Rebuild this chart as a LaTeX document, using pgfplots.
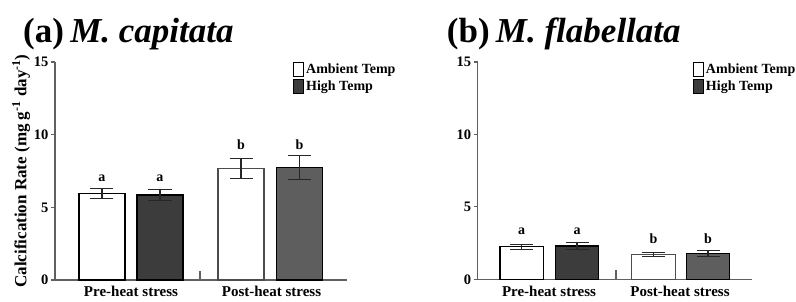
\documentclass[border=0pt]{standalone}
\usepackage{pgfplots}
\pgfplotsset{compat=1.18}
\usepackage{fontspec}
\setmainfont{Liberation Serif}
\definecolor{darkbar}{HTML}{3C3C3C}
\definecolor{midbar}{HTML}{5E5E5E}
\definecolor{axisgrey}{HTML}{606060}
\pgfplotsset{
  panel/.style={
    scale only axis,
    anchor=south west,
    ymin=0, ymax=15,
    ytick={0,5,10,15},
    yticklabels={0,5,10,15},
    axis x line*=bottom,
    axis y line*=left,
    axis line style={axisgrey, line width=1.2pt},
    ytick style={axisgrey, line width=1.2pt},
    tick align=outside,
    major tick length=4pt,
    xtick style={draw=none},
    ticklabel style={font=\fontsize{14.5}{14.5}\selectfont\bfseries},
    yticklabel style={xshift=1pt},
    xticklabel style={font=\fontsize{15}{15}\selectfont\bfseries, yshift=1pt},
    clip=false,
    legend image code/.code={\draw[##1, line width=1pt] (0pt,-7pt) rectangle (10pt,7pt);},
    legend style={draw=none, fill=none, anchor=north west, inner sep=0pt,
      font=\fontsize{14}{14}\selectfont\bfseries, row sep=1pt,
      /tikz/every even column/.append style={column sep=1pt}},
    legend cell align=left,
  },
  barst/.style={ybar, bar shift=0pt, line width=1.2pt, forget plot,
    error bars/.cd, y dir=both, y explicit,
    error bar style={line width=1.2pt, black!85},
    error mark options={rotate=90, line width=1.2pt, black!85, mark size=11.5pt},
    /pgfplots/.cd},
}
\begin{document}
\begin{tikzpicture}
\path[use as bounding box] (0,0) rectangle (796pt,302pt);
\node[anchor=base west, inner sep=0pt, font=\fontsize{35}{35}\selectfont\bfseries] at (23pt,259pt) {(a)\hspace{0.18em}\textit{M. capitata}};
\node[anchor=base west, inner sep=0pt, font=\fontsize{35}{35}\selectfont\bfseries] at (446.7pt,259pt) {(b)\hspace{0.18em}\textit{M. flabellata}};
% Left panel
\begin{axis}[panel, at={(55pt,22pt)}, width=292pt, height=218pt,
  xmin=0, xmax=292, xtick={76,216.5}, xticklabels={Pre-heat stress,Post-heat stress},
  ylabel={Calcification Rate (mg g\textsuperscript{-1} day\textsuperscript{-1})},
  ylabel style={font=\fontsize{17}{17}\selectfont\bfseries, yshift=-3pt},
  legend style={at={(0.815,1.0)}}]
\addplot[barst, bar width=46, fill=white, draw=black] coordinates {(47,5.95) +- (0,0.35)};
\addplot[barst, bar width=46, fill=darkbar, draw=black] coordinates {(105,5.85) +- (0,0.4)};
\addplot[barst, bar width=46, fill=white, draw=black!70] coordinates {(186,7.68) +- (0,0.7)};
\addplot[barst, bar width=46, fill=midbar, draw=black] coordinates {(244.5,7.75) +- (0,0.83)};
\addplot[axisgrey, line width=1.2pt, forget plot] coordinates {(145,0) (145,0.65)};
\node[anchor=base, font=\fontsize{14}{14}\selectfont\bfseries] at (axis cs:47,6.75) {a};
\node[anchor=base, font=\fontsize{14}{14}\selectfont\bfseries] at (axis cs:105,6.75) {a};
\node[anchor=base, font=\fontsize{14}{14}\selectfont\bfseries] at (axis cs:186,8.95) {b};
\node[anchor=base, font=\fontsize{14}{14}\selectfont\bfseries] at (axis cs:244.5,8.95) {b};
\addlegendimage{fill=white, draw=black}
\addlegendentry{Ambient Temp}
\addlegendimage{fill=darkbar, draw=black}
\addlegendentry{High Temp}
\end{axis}
% Right panel
\begin{axis}[panel, at={(477.7pt,22.7pt)}, width=274pt, height=217.3pt,
  xmin=0, xmax=274, xtick={71.3,202.3}, xticklabels={Pre-heat stress,Post-heat stress},
  legend style={at={(0.785,1.0)}}]
\addplot[barst, bar width=43.5, fill=white, draw=black] coordinates {(44,2.25) +- (0,0.17)};
\addplot[barst, bar width=43.5, fill=darkbar, draw=black] coordinates {(99.3,2.3) +- (0,0.23)};
\addplot[barst, bar width=43.5, fill=white, draw=black!70] coordinates {(175.7,1.7) +- (0,0.15)};
\addplot[barst, bar width=43.5, fill=midbar, draw=black] coordinates {(230.3,1.8) +- (0,0.2)};
\addplot[axisgrey, line width=1.2pt, forget plot] coordinates {(138.3,0) (138.3,0.65)};
\node[anchor=base, font=\fontsize{14}{14}\selectfont\bfseries] at (axis cs:44,3.1) {a};
\node[anchor=base, font=\fontsize{14}{14}\selectfont\bfseries] at (axis cs:99.3,3.1) {a};
\node[anchor=base, font=\fontsize{14}{14}\selectfont\bfseries] at (axis cs:175.7,2.48) {b};
\node[anchor=base, font=\fontsize{14}{14}\selectfont\bfseries] at (axis cs:230.3,2.48) {b};
\addlegendimage{fill=white, draw=black}
\addlegendentry{Ambient Temp}
\addlegendimage{fill=darkbar, draw=black}
\addlegendentry{High Temp}
\end{axis}
\end{tikzpicture}
\end{document}
